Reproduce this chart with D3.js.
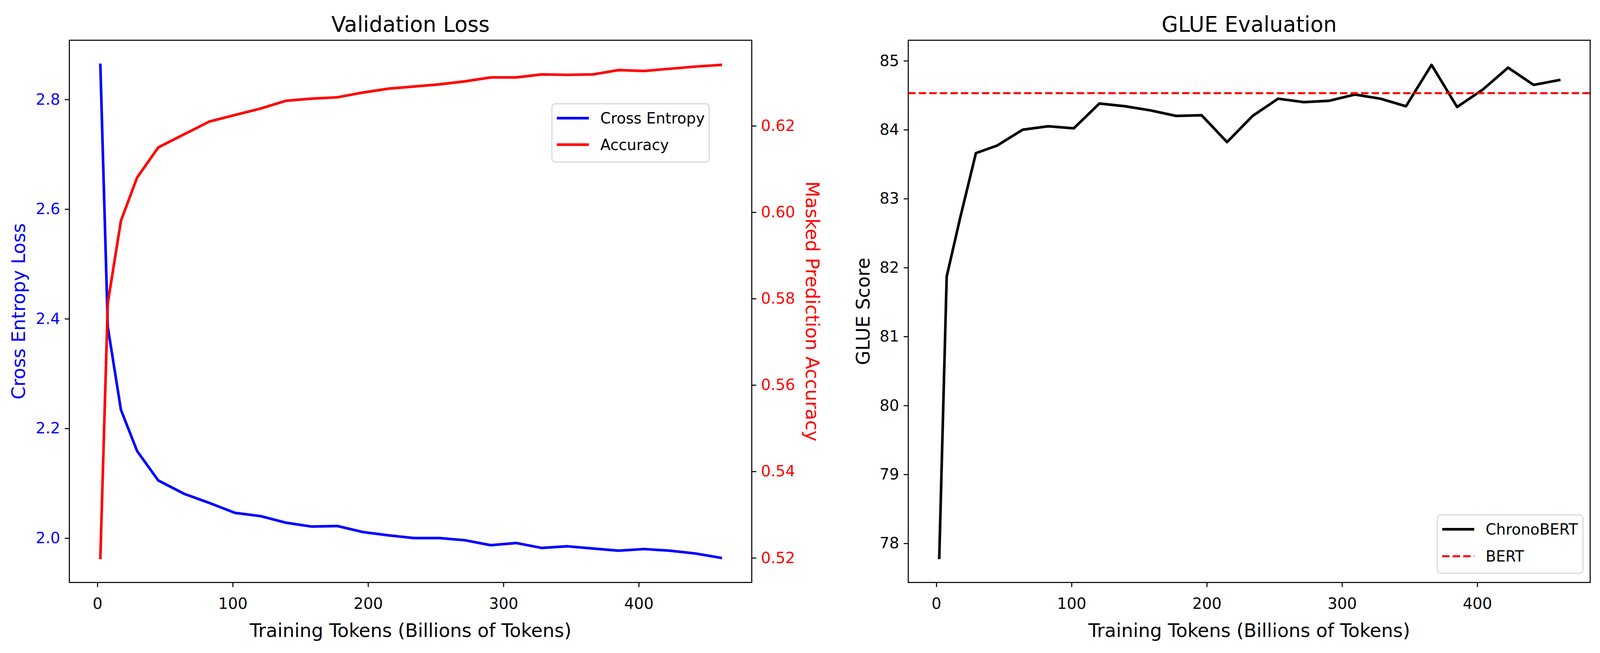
<!DOCTYPE html>
<html>
<head>
<meta charset="utf-8">
<script src="https://cdn.jsdelivr.net/npm/d3@7"></script>
<style>
  html, body { margin: 0; padding: 0; background: #fff; overflow: hidden; }
  svg { display: block; font-family: "DejaVu Sans", sans-serif; }
</style>
</head>
<body>
<svg id="chart"></svg>
<script>
// training tokens (billions) at each checkpoint
const tokens = [2.2, 7.7, 17.4, 29.3, 45.0, 63.9, 82.8, 101.7, 120.6, 139.5, 158.4, 177.3, 196.2, 215.0,
  233.9, 252.8, 271.7, 290.6, 309.5, 328.4, 347.3, 366.2, 385.1, 404.0, 422.8, 441.7, 460.6];

const crossEntropy = [2.863, 2.385, 2.234, 2.159, 2.105, 2.081, 2.064, 2.046, 2.040, 2.028, 2.021, 2.022, 2.011, 2.005,
  2.000, 2.000, 1.996, 1.987, 1.991, 1.982, 1.985, 1.981, 1.977, 1.980, 1.977, 1.972, 1.964];

const accuracy = [0.520, 0.579, 0.598, 0.608, 0.615, 0.618, 0.621, 0.6225, 0.624, 0.6258, 0.6263, 0.6266, 0.6277, 0.6286,
  0.6291, 0.6296, 0.6303, 0.6312, 0.6312, 0.6319, 0.6318, 0.6319, 0.6329, 0.6327, 0.6332, 0.6337, 0.6341];

const glueScore = [77.79, 81.87, 82.70, 83.66, 83.77, 84.00, 84.05, 84.02, 84.38, 84.34, 84.28, 84.20, 84.21, 83.82,
  84.20, 84.45, 84.40, 84.42, 84.51, 84.45, 84.34, 84.94, 84.33, 84.58, 84.90, 84.65, 84.72];

const bertScore = 84.53;

const xTicks = [0, 100, 200, 300, 400];
const lossTicks = [2.0, 2.2, 2.4, 2.6, 2.8];
const accTicks = [0.52, 0.54, 0.56, 0.58, 0.60, 0.62];
const glueTicks = [78, 79, 80, 81, 82, 83, 84, 85];

// layout is measured on a 4892x1671 figure and scaled to the real window
let baseW = 4892;
let baseH = 1671;
let width = window.innerWidth || baseW;
let height = window.innerHeight || baseH;
let sx = width / baseW;
let sy = height / baseH;
let k = Math.min(sx, sy);
let px = (v) => v * sx;
let py = (v) => v * sy;

let plotTop = py(103);
let plotBottom = py(1490.5);
let leftPanel = { x0: px(212), x1: px(2298.5) };
let rightPanel = { x0: px(2777), x1: px(4862) };

let tickFont = 47 * k;
let labelFont = 57 * k;
let titleFont = 65 * k;
let legendFont = 46 * k;
let spineW = 3.2 * k;
let lineW = 8 * k;
let dashW = 6.2 * k;
let dash = `${22.5 * k},${9.7 * k}`;
let tickLen = 14 * k;

let svg = d3.select('#chart').attr('width', width).attr('height', height);
svg.append('rect').attr('width', width).attr('height', height).attr('fill', '#fff');

// matplotlib style 5% margins
let padExtent = (vals) => {
  let [lo, hi] = d3.extent(vals);
  let m = (hi - lo) * 0.05;
  return [lo - m, hi + m];
};

let styleAxis = (g, color) => {
  g.select('.domain').remove();
  g.selectAll('.tick line').attr('stroke', '#000').attr('stroke-width', spineW);
  g.selectAll('.tick text').attr('fill', color).attr('font-size', tickFont)
    .attr('font-family', '"DejaVu Sans", sans-serif');
};

let drawFrame = (p) => {
  svg.append('rect')
    .attr('x', p.x0).attr('y', plotTop)
    .attr('width', p.x1 - p.x0).attr('height', plotBottom - plotTop)
    .attr('fill', 'none').attr('stroke', '#000').attr('stroke-width', spineW);
};

let drawLegend = (x, y, w, h, rows) => {
  let g = svg.append('g');
  g.append('rect')
    .attr('x', px(x)).attr('y', py(y)).attr('width', px(w)).attr('height', py(h))
    .attr('rx', 10 * k).attr('ry', 10 * k)
    .attr('fill', '#fff').attr('fill-opacity', 0.8)
    .attr('stroke', '#cccccc').attr('stroke-opacity', 0.8).attr('stroke-width', spineW);
  rows.forEach((r) => {
    g.append('line')
      .attr('x1', px(x + 15)).attr('x2', px(x + 113))
      .attr('y1', py(r.y)).attr('y2', py(r.y))
      .attr('stroke', r.color).attr('stroke-width', r.width)
      .attr('stroke-dasharray', r.dash || null);
    g.append('text')
      .attr('x', px(x + 148)).attr('y', py(r.y))
      .attr('dy', '0.36em')
      .attr('font-size', legendFont)
      .text(r.label);
  });
};

let drawXAxis = (x, p) => {
  let xAxis = d3.axisBottom(x).tickValues(xTicks)
    .tickSize(tickLen).tickPadding(py(1558) - plotBottom - tickLen - 0.71 * tickFont).tickSizeOuter(0);
  svg.append('g')
    .attr('transform', `translate(0, ${plotBottom})`)
    .call(xAxis)
    .call((g) => styleAxis(g, '#000'));

  svg.append('text')
    .attr('x', (p.x0 + p.x1) / 2).attr('y', py(1630))
    .attr('text-anchor', 'middle').attr('font-size', labelFont)
    .text('Training Tokens (Billions of Tokens)');
};

let drawTitle = (p, label) => {
  svg.append('text')
    .attr('x', (p.x0 + p.x1) / 2).attr('y', py(81))
    .attr('text-anchor', 'middle').attr('font-size', titleFont)
    .text(label);
};

let drawYLabel = (xPos, angle, label, color) => {
  svg.append('text')
    .attr('transform', `translate(${px(xPos)}, ${(plotTop + plotBottom) / 2}) rotate(${angle})`)
    .attr('text-anchor', 'middle').attr('font-size', labelFont).attr('fill', color)
    .text(label);
};

// ---------- left panel: validation loss ----------
let drawLossPanel = () => {
  let x = d3.scaleLinear().domain(padExtent(tokens)).range([leftPanel.x0, leftPanel.x1]);
  let yLoss = d3.scaleLinear().domain(padExtent(crossEntropy)).range([plotBottom, plotTop]);
  let yAcc = d3.scaleLinear().domain(padExtent(accuracy)).range([plotBottom, plotTop]);

  let lossLine = d3.line().x((d, i) => x(tokens[i])).y((d) => yLoss(d));
  let accLine = d3.line().x((d, i) => x(tokens[i])).y((d) => yAcc(d));

  svg.append('path')
    .datum(crossEntropy)
    .attr('d', lossLine)
    .attr('fill', 'none').attr('stroke', '#0000ff').attr('stroke-width', lineW)
    .attr('stroke-linejoin', 'round').attr('stroke-linecap', 'square');

  svg.append('path')
    .datum(accuracy)
    .attr('d', accLine)
    .attr('fill', 'none').attr('stroke', '#ff0000').attr('stroke-width', lineW)
    .attr('stroke-linejoin', 'round').attr('stroke-linecap', 'square');

  drawFrame(leftPanel);

  svg.append('g')
    .attr('transform', `translate(${leftPanel.x0}, 0)`)
    .call(d3.axisLeft(yLoss).tickValues(lossTicks).tickFormat(d3.format('.1f'))
      .tickSize(tickLen).tickPadding(tickLen).tickSizeOuter(0))
    .call((g) => styleAxis(g, '#0000ff'));

  svg.append('g')
    .attr('transform', `translate(${leftPanel.x1}, 0)`)
    .call(d3.axisRight(yAcc).tickValues(accTicks).tickFormat(d3.format('.2f'))
      .tickSize(tickLen).tickPadding(tickLen).tickSizeOuter(0))
    .call((g) => styleAxis(g, '#ff0000'));

  drawXAxis(x, leftPanel);
  drawTitle(leftPanel, 'Validation Loss');
  drawYLabel(76, -90, 'Cross Entropy Loss', '#0000ff');
  drawYLabel(2464, 90, 'Masked Prediction Accuracy', '#ff0000');

  drawLegend(1687.5, 265.6, 480.8, 149, [
    { label: 'Cross Entropy', color: '#0000ff', width: lineW, y: 302.4 },
    { label: 'Accuracy', color: '#ff0000', width: lineW, y: 370.2 },
  ]);
};

// ---------- right panel: GLUE evaluation ----------
let drawGluePanel = () => {
  let x = d3.scaleLinear().domain(padExtent(tokens)).range([rightPanel.x0, rightPanel.x1]);
  let y = d3.scaleLinear().domain(padExtent(glueScore.concat([bertScore]))).range([plotBottom, plotTop]);

  let glueLine = d3.line().x((d, i) => x(tokens[i])).y((d) => y(d));

  svg.append('path')
    .datum(glueScore)
    .attr('d', glueLine)
    .attr('fill', 'none').attr('stroke', '#000').attr('stroke-width', lineW)
    .attr('stroke-linejoin', 'round').attr('stroke-linecap', 'square');

  svg.append('line')
    .attr('x1', rightPanel.x0).attr('x2', rightPanel.x1)
    .attr('y1', y(bertScore)).attr('y2', y(bertScore))
    .attr('stroke', '#ff0000').attr('stroke-width', dashW)
    .attr('stroke-dasharray', dash);

  drawFrame(rightPanel);

  svg.append('g')
    .attr('transform', `translate(${rightPanel.x0}, 0)`)
    .call(d3.axisLeft(y).tickValues(glueTicks).tickSize(tickLen).tickPadding(tickLen).tickSizeOuter(0))
    .call((g) => styleAxis(g, '#000'));

  drawXAxis(x, rightPanel);
  drawTitle(rightPanel, 'GLUE Evaluation');
  drawYLabel(2658, -90, 'GLUE Score', '#000');

  drawLegend(4394.5, 1317.7, 445.5, 149, [
    { label: 'ChronoBERT', color: '#000', width: lineW, y: 1354.4 },
    { label: 'BERT', color: '#ff0000', width: dashW, y: 1423.3, dash: dash },
  ]);
};

drawLossPanel();
drawGluePanel();
</script>
</body>
</html>
